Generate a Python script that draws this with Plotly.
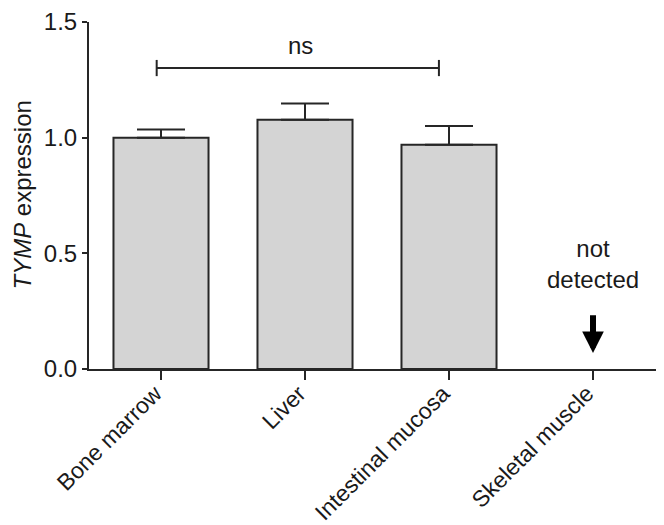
import plotly.graph_objects as go

categories = ["Bone marrow", "Liver", "Intestinal mucosa", "Skeletal muscle"]
expression = [1.00, 1.077, 0.969, None]
sem_upper = [0.035, 0.071, 0.081, 0]
y_ticks = [0, 0.5, 1.0, 1.5]
y_tick_text = ["0.0", "0.5", "1.0", "1.5"]

FONT = "Arial, 'Liberation Sans', sans-serif"
FS = 24

fig = go.Figure()
fig.add_trace(go.Bar(
    x=categories,
    y=expression,
    width=0.66,
    marker=dict(color="#d4d4d4", line=dict(color="#262626", width=2)),
    error_y=dict(type="data", symmetric=False, array=sem_upper,
                 arrayminus=[0, 0, 0, 0], color="#262626", thickness=2, width=24),
    showlegend=False,
))

# significance bracket (ns)
br_y = 1.301
br_x0, br_x1 = -0.03, 1.93
tick_h = 0.035
line_style = dict(color="#262626", width=2)
fig.add_shape(type="line", xref="x", yref="y", x0=br_x0, x1=br_x1, y0=br_y, y1=br_y, line=line_style)
fig.add_shape(type="line", xref="x", yref="y", x0=br_x0, x1=br_x0, y0=br_y - tick_h, y1=br_y + tick_h, line=line_style)
fig.add_shape(type="line", xref="x", yref="y", x0=br_x1, x1=br_x1, y0=br_y - tick_h, y1=br_y + tick_h, line=line_style)
fig.add_annotation(x=0.97, y=1.40, xref="x", yref="y", text="ns", showarrow=False,
                   font=dict(family=FONT, size=FS, color="#1a1a1a"))

# not detected label + arrow
fig.add_annotation(x=3, y=0.455, xref="x", yref="y", text="not<br>detected", showarrow=False,
                   font=dict(family=FONT, size=FS, color="#1a1a1a"))
fig.add_annotation(x=3, y=0.069, xref="x", yref="y", ax=3, ay=0.239, axref="x", ayref="y",
                   text="", showarrow=True, arrowhead=2, arrowsize=0.72, arrowwidth=6,
                   arrowcolor="#000000", standoff=0, startstandoff=0)

# y-axis title
fig.add_annotation(x=0, y=0.5, xref="paper", yref="paper", xshift=-67, xanchor="center",
                   yanchor="middle", textangle=-90, showarrow=False,
                   text="<i>TYMP</i> expression",
                   font=dict(family=FONT, size=FS, color="#1a1a1a"))

fig.update_layout(
    width=664, height=525,
    margin=dict(l=81, r=7, t=14, b=164),
    plot_bgcolor="white", paper_bgcolor="white",
    font=dict(family=FONT, size=FS, color="#1a1a1a"),
)
fig.update_xaxes(
    range=[-0.5, 3.5], showline=True, linecolor="#262626", linewidth=2,
    ticks="outside", ticklen=9, tickwidth=2, tickcolor="#262626",
    tickangle=-45, tickfont=dict(family=FONT, size=23, color="#1a1a1a"),
    ticklabelstandoff=-9, ticklabelshift=-6,
    showgrid=False, zeroline=False, automargin=False,
)
fig.update_yaxes(
    range=[0, 1.5], showline=True, linecolor="#262626", linewidth=2,
    ticks="outside", ticklen=5, tickwidth=2, tickcolor="#262626",
    tickvals=y_ticks, ticktext=y_tick_text,
    tickfont=dict(family=FONT, size=FS, color="#1a1a1a"),
    showgrid=False, zeroline=False, automargin=False,
)

fig.write_html("out.html")
